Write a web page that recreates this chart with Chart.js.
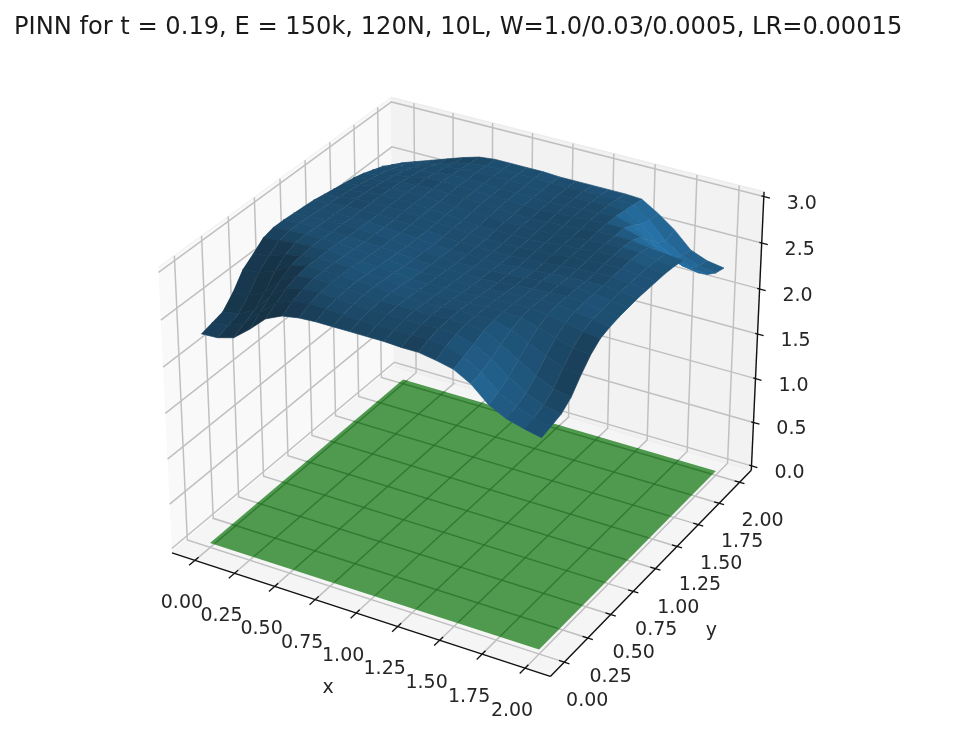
<!DOCTYPE html>
<html>
<head>
<meta charset="utf-8">
<title>PINN surface</title>
<script src="https://cdn.jsdelivr.net/npm/chart.js@4"></script>
<style>
  html, body { margin: 0; padding: 0; background: #fff; }
  #wrap { width: 972px; height: 737px; }
  /* the reference is a slightly soft screenshot */
  #surfaceChart { filter: blur(0.5px); }
</style>
</head>
<body>
<div id="wrap"><canvas id="surfaceChart" width="972" height="737"></canvas></div>
<script>
// --- DATA ---
const chartTitle = 'PINN for t = 0.19, E = 150k, 120N, 10L, W=1.0/0.03/0.0005, LR=0.00015';
const xTicks = [0, 0.25, 0.5, 0.75, 1, 1.25, 1.5, 1.75, 2];
const yTicks = [0, 0.25, 0.5, 0.75, 1, 1.25, 1.5, 1.75, 2];
const zTicks = [0, 0.5, 1, 1.5, 2, 2.5, 3];
const xTickLabels = ['0.00', '0.25', '0.50', '0.75', '1.00', '1.25', '1.50', '1.75', '2.00'];
const yTickLabels = ['0.00', '0.25', '0.50', '0.75', '1.00', '1.25', '1.50', '1.75', '2.00'];
const zTickLabels = ['0.0', '0.5', '1.0', '1.5', '2.0', '2.5', '3.0'];

// mesh positions of the surface, every row of surfaceZ is one y
const meshX = [0, 0.1, 0.2, 0.3, 0.4, 0.5, 0.6, 0.7, 0.8, 0.9, 1, 1.1, 1.2, 1.3, 1.4, 1.5, 1.6, 1.7, 1.8, 1.9, 2];
const meshY = [0, 0.1, 0.2, 0.3, 0.4, 0.5, 0.6, 0.7, 0.8, 0.9, 1, 1.1, 1.2, 1.3, 1.4, 1.5, 1.6, 1.7, 1.8, 1.9, 2];
const surfaceZ = [
    [2.30, 2.31, 2.36, 2.50, 2.66, 2.74, 2.77, 2.78, 2.78, 2.78, 2.78, 2.78, 2.77, 2.77, 2.74, 2.70, 2.60, 2.44, 2.35, 2.30, 2.26],
    [2.33, 2.35, 2.42, 2.59, 2.74, 2.81, 2.83, 2.83, 2.82, 2.81, 2.81, 2.81, 2.81, 2.82, 2.80, 2.74, 2.63, 2.48, 2.38, 2.32, 2.29],
    [2.36, 2.39, 2.48, 2.68, 2.81, 2.85, 2.86, 2.85, 2.84, 2.83, 2.83, 2.83, 2.83, 2.84, 2.83, 2.78, 2.68, 2.55, 2.43, 2.36, 2.32],
    [2.48, 2.50, 2.58, 2.76, 2.85, 2.87, 2.87, 2.86, 2.85, 2.84, 2.84, 2.84, 2.84, 2.85, 2.85, 2.83, 2.74, 2.63, 2.52, 2.44, 2.40],
    [2.64, 2.66, 2.72, 2.83, 2.87, 2.87, 2.87, 2.86, 2.85, 2.84, 2.83, 2.83, 2.84, 2.85, 2.85, 2.85, 2.80, 2.72, 2.63, 2.57, 2.54],
    [2.72, 2.75, 2.81, 2.85, 2.87, 2.87, 2.87, 2.85, 2.84, 2.83, 2.82, 2.82, 2.83, 2.84, 2.85, 2.85, 2.84, 2.79, 2.73, 2.68, 2.66],
    [2.81, 2.83, 2.85, 2.86, 2.87, 2.86, 2.85, 2.84, 2.83, 2.81, 2.81, 2.81, 2.81, 2.83, 2.84, 2.85, 2.85, 2.84, 2.80, 2.76, 2.74],
    [2.84, 2.85, 2.86, 2.86, 2.86, 2.85, 2.84, 2.83, 2.81, 2.80, 2.80, 2.80, 2.80, 2.81, 2.83, 2.84, 2.85, 2.85, 2.83, 2.80, 2.77],
    [2.84, 2.85, 2.85, 2.85, 2.85, 2.84, 2.83, 2.82, 2.80, 2.79, 2.79, 2.79, 2.79, 2.80, 2.82, 2.83, 2.84, 2.85, 2.84, 2.81, 2.79],
    [2.83, 2.84, 2.84, 2.85, 2.85, 2.84, 2.83, 2.81, 2.80, 2.79, 2.78, 2.78, 2.79, 2.80, 2.81, 2.83, 2.84, 2.85, 2.84, 2.82, 2.80],
    [2.82, 2.83, 2.84, 2.84, 2.84, 2.83, 2.82, 2.81, 2.79, 2.78, 2.78, 2.78, 2.78, 2.79, 2.80, 2.82, 2.83, 2.84, 2.84, 2.83, 2.81],
    [2.81, 2.82, 2.83, 2.84, 2.84, 2.83, 2.82, 2.81, 2.79, 2.78, 2.78, 2.78, 2.78, 2.79, 2.80, 2.82, 2.83, 2.84, 2.85, 2.83, 2.81],
    [2.79, 2.81, 2.83, 2.84, 2.84, 2.84, 2.83, 2.81, 2.80, 2.79, 2.78, 2.78, 2.79, 2.80, 2.81, 2.83, 2.84, 2.85, 2.85, 2.83, 2.81],
    [2.77, 2.80, 2.82, 2.84, 2.84, 2.84, 2.83, 2.82, 2.80, 2.79, 2.79, 2.79, 2.79, 2.80, 2.82, 2.83, 2.85, 2.86, 2.86, 2.83, 2.81],
    [2.75, 2.78, 2.81, 2.83, 2.84, 2.84, 2.83, 2.82, 2.81, 2.80, 2.80, 2.80, 2.80, 2.81, 2.82, 2.84, 2.85, 2.86, 2.85, 2.82, 2.80],
    [2.73, 2.76, 2.79, 2.82, 2.83, 2.84, 2.83, 2.83, 2.82, 2.81, 2.80, 2.80, 2.81, 2.82, 2.83, 2.85, 2.85, 2.85, 2.82, 2.80, 2.78],
    [2.70, 2.73, 2.77, 2.80, 2.83, 2.84, 2.84, 2.83, 2.82, 2.82, 2.81, 2.81, 2.82, 2.83, 2.84, 2.85, 2.85, 2.80, 2.72, 2.66, 2.62],
    [2.66, 2.70, 2.74, 2.78, 2.81, 2.83, 2.83, 2.83, 2.82, 2.82, 2.81, 2.81, 2.82, 2.83, 2.84, 2.85, 2.80, 2.69, 2.58, 2.51, 2.48],
    [2.62, 2.66, 2.70, 2.75, 2.79, 2.82, 2.83, 2.83, 2.83, 2.82, 2.81, 2.81, 2.82, 2.83, 2.84, 2.83, 2.73, 2.58, 2.46, 2.40, 2.38],
    [2.56, 2.61, 2.66, 2.71, 2.76, 2.80, 2.82, 2.82, 2.82, 2.82, 2.81, 2.81, 2.82, 2.82, 2.82, 2.81, 2.69, 2.51, 2.40, 2.34, 2.31],
    [2.50, 2.56, 2.62, 2.68, 2.74, 2.79, 2.81, 2.81, 2.81, 2.81, 2.80, 2.80, 2.80, 2.80, 2.80, 2.79, 2.68, 2.55, 2.38, 2.31, 2.28]
];
const planeX = [0, 2];
const planeY = [0, 2];
const planeZ = 0;

// --- 3D VIEW (same camera as a default mplot3d axes) ---
const xLim = [-0.1458, 2.1458];
const yLim = [-0.1458, 2.1458];
const zLim = [-0.05, 3.05];
const boxSide = 1.19, boxHeight = 0.893, camDist = 10;
const screenScale = 3642, screenX = 467, screenY = 373;
const camW = [0.433, -0.75, 0.5], camU = [0.866, 0.5, 0], camV = [-0.25, 0.433, 0.866];

function toBox(x, y, z) {
    return [
        ((x - xLim[0]) / (xLim[1] - xLim[0]) - 0.5) * boxSide,
        ((y - yLim[0]) / (yLim[1] - yLim[0]) - 0.5) * boxSide,
        ((z - zLim[0]) / (zLim[1] - zLim[0]) - 0.5) * boxHeight
    ];
}
const dot = (a, b) => a[0] * b[0] + a[1] * b[1] + a[2] * b[2];

function project(x, y, z) {
    const p = toBox(x, y, z);
    const depth = camDist - dot(p, camW);
    return {
        x: screenX + screenScale * dot(p, camU) / depth,
        y: screenY - screenScale * dot(p, camV) / depth
    };
}
function depthOf(x, y, z) {
    return camDist - dot(toBox(x, y, z), camW);
}

// --- DATASET HELPERS ---
const datasets = [];
function addShape(points, fillColor, edgeColor, edgeWidth) {
    datasets.push({
        data: points.map(p => project(p[0], p[1], p[2])),
        showLine: true, fill: 'shape', tension: 0, pointRadius: 0,
        backgroundColor: fillColor, borderColor: edgeColor, borderWidth: edgeWidth
    });
}
function addLine(points, color, width) {
    datasets.push({
        data: points.map(p => project(p[0], p[1], p[2])),
        showLine: true, fill: false, tension: 0, pointRadius: 0,
        borderColor: color, borderWidth: width
    });
}

// --- PANES AND GRID ---
const [x0, x1] = xLim, [y0, y1] = yLim, [z0, z1] = zLim;
addShape([[x0, y0, z0], [x0, y1, z0], [x0, y1, z1], [x0, y0, z1]], '#f9f9f9', '#f3f3f3', 1.5);
addShape([[x0, y1, z0], [x1, y1, z0], [x1, y1, z1], [x0, y1, z1]], '#f2f2f2', '#ececec', 1.5);
addShape([[x0, y0, z0], [x1, y0, z0], [x1, y1, z0], [x0, y1, z0]], '#f5f5f5', '#efefef', 1.5);

const gridColor = '#c0c0c0', gridWidth = 1.5;
xTicks.forEach(t => {
    addLine([[t, y0, z0], [t, y1, z0], [t, y1, z1]], gridColor, gridWidth);
});
yTicks.forEach(t => {
    addLine([[x1, t, z0], [x0, t, z0], [x0, t, z1]], gridColor, gridWidth);
});
zTicks.forEach(t => {
    addLine([[x0, y0, t], [x0, y1, t], [x1, y1, t]], gridColor, gridWidth);
});

// --- AXIS LINES AND TICK MARKS ---
const axisColor = '#111111', axisWidth = 1.4;
addLine([[x0, y0, z0], [x1, y0, z0]], axisColor, axisWidth);
addLine([[x1, y0, z0], [x1, y1, z0]], axisColor, axisWidth);
addLine([[x1, y1, z0], [x1, y1, z1]], axisColor, axisWidth);
xTicks.forEach(t => addLine([[t, y0 - 0.055, z0], [t, y0 + 0.035, z0]], axisColor, 1.3));
yTicks.forEach(t => addLine([[x1 - 0.03, t, z0], [x1 + 0.03, t, z0]], axisColor, 1.3));
zTicks.forEach(t => addLine([[x1 - 0.014, y1, t], [x1 + 0.036, y1, t]], axisColor, 1.3));

// --- GREEN PLANE ---
addShape([
    [planeX[0], planeY[0], planeZ], [planeX[1], planeY[0], planeZ],
    [planeX[1], planeY[1], planeZ], [planeX[0], planeY[1], planeZ]
], 'rgba(0,110,0,0.68)', 'rgba(0,110,0,0)', 0);
// floor grid seen through the plane looks darker than it does on the pane,
// the floor sits a bit under the plane so the visible part is shifted
xTicks.slice(0, -1).forEach(t => addLine([[t, 0.05, z0], [t, 2.05, z0]], 'rgba(0,70,0,0.2)', 1.3));
yTicks.slice(1).forEach(t => addLine([[-0.03, t, z0], [1.97, t, z0]], 'rgba(0,70,0,0.2)', 1.3));

// --- SURFACE FACETS, far ones first ---
// normal points down like the original plot, so slopes towards +x +y look bright
const lightDir = [-0.667, -0.667, 0.333];
const baseColor = [31, 119, 180];

function facetColor(a, b, c, d) {
    const u = [c[0] - a[0], c[1] - a[1], c[2] - a[2]];
    const v = [d[0] - b[0], d[1] - b[1], d[2] - b[2]];
    let n = [u[1] * v[2] - u[2] * v[1], u[2] * v[0] - u[0] * v[2], u[0] * v[1] - u[1] * v[0]];
    const len = Math.sqrt(dot(n, n));
    n = n.map(k => -k / len);
    const shade = 0.3 + 0.7 * (dot(n, lightDir) + 1) / 2;
    // small lift for the light seams of the dense original mesh
    const rgb = baseColor.map(k => Math.round(k * shade + 12));
    return `rgb(${rgb[0]},${rgb[1]},${rgb[2]})`;
}

const facets = [];
for (let j = 0; j < meshY.length - 1; j++) {
    for (let i = 0; i < meshX.length - 1; i++) {
        const a = [meshX[i], meshY[j], surfaceZ[j][i]];
        const b = [meshX[i + 1], meshY[j], surfaceZ[j][i + 1]];
        const c = [meshX[i + 1], meshY[j + 1], surfaceZ[j + 1][i + 1]];
        const d = [meshX[i], meshY[j + 1], surfaceZ[j + 1][i]];
        const mid = [0, 1, 2].map(k => (a[k] + b[k] + c[k] + d[k]) / 4);
        facets.push({ pts: [a, b, c, d], far: depthOf(mid[0], mid[1], mid[2]), color: facetColor(a, b, c, d) });
    }
}
facets.sort((p, q) => q.far - p.far);
facets.forEach(f => addShape(f.pts, f.color, f.color, 0.7));

// chart.js draws the highest order first
datasets.forEach((d, i) => { d.order = datasets.length - i; });

// --- TEXT LABELS ---
const tickLabelPlugin = {
    id: 'tickLabels',
    afterDatasetsDraw(chart) {
        const ctx = chart.ctx;
        const sx = chart.scales.x, sy = chart.scales.y;
        const put = (text, px, py) => ctx.fillText(text, sx.getPixelForValue(px), sy.getPixelForValue(py));
        ctx.save();
        ctx.font = '19px "DejaVu Sans"';
        ctx.fillStyle = '#262626';
        ctx.textAlign = 'center';
        ctx.textBaseline = 'middle';
        xTicks.forEach((t, i) => {
            const p = project(t, y0, z0);
            put(xTickLabels[i], p.x - 13, p.y + 43);
        });
        yTicks.forEach((t, i) => {
            const p = project(x1, t, z0);
            put(yTickLabels[i], p.x + 23, p.y + 39);
        });
        zTicks.forEach((t, i) => {
            const p = project(x1, y1, t);
            put(zTickLabels[i], p.x + 38, p.y + 7);
        });
        const xl = project(1, y0, z0), yl = project(x1, 1, z0);
        put('x', xl.x - 28, xl.y + 75);
        put('y', yl.x + 56, yl.y + 62);
        ctx.restore();
    }
};

// --- CHART INITIALIZATION ---
// title height is known, so the y scale starts below it and one unit stays one pixel
const titleFont = 24.15, titleTop = 13.5;
const chartTop = titleTop + titleFont * 1.2;

new Chart(document.getElementById('surfaceChart').getContext('2d'), {
    type: 'scatter',
    data: { datasets: datasets },
    plugins: [tickLabelPlugin],
    options: {
        responsive: false,
        animation: false,
        layout: { padding: { left: 14 } },
        scales: {
            x: { type: 'linear', display: false, min: 14, max: 972 },
            y: { type: 'linear', display: false, min: chartTop, max: 737, reverse: true }
        },
        plugins: {
            legend: { display: false },
            tooltip: { enabled: false },
            title: {
                display: true,
                text: chartTitle,
                align: 'start',
                color: '#1a1a1a',
                font: { family: '"DejaVu Sans"', size: titleFont, weight: 'normal', lineHeight: 1.2 },
                padding: { top: titleTop, bottom: 0 }
            }
        }
    }
});
</script>
</body>
</html>
